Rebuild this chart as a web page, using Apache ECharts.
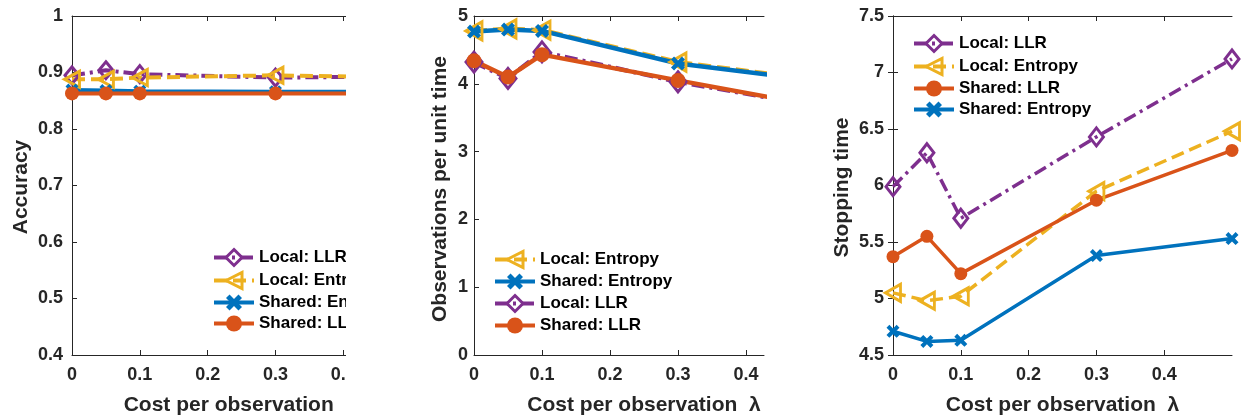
<!DOCTYPE html>
<html><head><meta charset="utf-8">
<script src="https://cdn.jsdelivr.net/npm/echarts@6/dist/echarts.min.js"></script>
<style>
html,body{margin:0;padding:0;background:#fff;width:1241px;height:419px;overflow:hidden}
.layer{position:absolute;left:0;top:0;width:1241px;height:419px}
#clipL{position:absolute;left:0;top:0;width:346px;height:419px;overflow:hidden}
</style></head><body>
<div id="clipL"><div id="cL" class="layer"></div></div>
<div id="cM" class="layer"></div>
<div id="cR" class="layer"></div>
<script>
// ---------------- data ----------------
const costX = [0, 0.05, 0.1, 0.3, 0.5];
const xTickValues = [0, 0.1, 0.2, 0.3, 0.4];

// Accuracy (left panel)
const accLocalLLR     = [0.895, 0.904, 0.897, 0.891, 0.893];
const accLocalEntropy = [0.888, 0.888, 0.891, 0.895, 0.891];
const accSharedEntropy= [0.869, 0.868, 0.867, 0.866, 0.866];
const accSharedLLR    = [0.863, 0.863, 0.863, 0.863, 0.863];

// Observations per unit time (middle panel)
const obsLocalEntropy = [4.78, 4.81, 4.79, 4.32, 4.06];
const obsSharedEntropy= [4.77, 4.80, 4.78, 4.30, 4.05];
const obsLocalLLR     = [4.32, 4.08, 4.47, 4.03, 3.68];
const obsSharedLLR    = [4.34, 4.10, 4.43, 4.05, 3.68];

// Stopping time (right panel)
const stopLocalLLR     = [5.99, 6.29, 5.71, 6.43, 7.12];
const stopLocalEntropy = [5.05, 4.98, 5.02, 5.95, 6.48];
const stopSharedLLR    = [5.37, 5.55, 5.22, 5.87, 6.31];
const stopSharedEntropy= [4.71, 4.62, 4.63, 5.38, 5.53];

const legendLeft  = ['Local: LLR', 'Local: Entropy', 'Shared: Entropy', 'Shared: LLR'];
const legendMid   = ['Local: Entropy', 'Shared: Entropy', 'Local: LLR', 'Shared: LLR'];
const legendRight = ['Local: LLR', 'Local: Entropy', 'Shared: LLR', 'Shared: Entropy'];

// ---------------- styling ----------------
const FONT = '"Liberation Sans", Arial, Helvetica, sans-serif';
const AX = '#262626';
const XPATH = 'path://M0,2.2L2.2,0L5,2.8L7.8,0L10,2.2L7.2,5L10,7.8L7.8,10L5,7.2L2.2,10L0,7.8L2.8,5Z';
const STY = {
  'Local: LLR':      {color:'#7E2F8E', dash:[13,5,3,5], symbol:'diamond', key:'dia', filled:false},
  'Local: Entropy':  {color:'#EDB120', dash:[13,6], symbol:'triangle', rotate:90, key:'tri', filled:false},
  'Shared: LLR':     {color:'#D95319', dash:'solid', symbol:'circle', key:'cir', filled:true},
  'Shared: Entropy': {color:'#0072BD', dash:'solid', symbol:XPATH, key:'x', filled:true}
};

function mkSeries(name, ys, sizes, lw) {
  const s = STY[name];
  return {
    type: 'line', name: name,
    data: costX.map((x, i) => [x, ys[i]]),
    symbol: s.symbol, symbolSize: sizes[s.key], symbolRotate: s.rotate || 0,
    showAllSymbol: true, clip: true, animation: false, silent: true,
    lineStyle: {color: s.color, width: lw, type: s.dash},
    itemStyle: s.filled ? {color: s.color, borderWidth: 0}
                        : {color: 'rgba(255,255,255,0)', borderColor: s.color, borderWidth: 3},
    emphasis: {disabled: true}
  };
}

function mkOption(cfg) {
  const tickStyle = {show: true, inside: true, length: 5, lineStyle: {color: AX, width: 1}};
  const lineSt = {show: true, lineStyle: {color: AX, width: 1}};
  const lab = {fontSize: 18, fontWeight: 'bold', color: AX, fontFamily: FONT};
  const xAxis = [
    {type: 'value', min: 0, max: cfg.xMax, position: 'bottom', axisLine: lineSt,
     axisTick: Object.assign({customValues: xTickValues}, tickStyle), splitLine: {show: false},
     axisLabel: Object.assign({customValues: xTickValues, margin: 11}, lab)},
    {type: 'value', min: 0, max: cfg.xMax, position: 'top', axisLine: lineSt,
     axisTick: Object.assign({customValues: xTickValues}, tickStyle), splitLine: {show: false},
     axisLabel: {show: false}}
  ];
  const yAxis = [
    {type: 'value', min: cfg.yMin, max: cfg.yMax, interval: cfg.yInt, position: 'left',
     axisLine: lineSt, axisTick: tickStyle, splitLine: {show: false},
     axisLabel: Object.assign({margin: cfg.yMargin}, lab)}
  ];
  if (cfg.rightAxis) {
    yAxis.push({type: 'value', min: cfg.yMin, max: cfg.yMax, interval: cfg.yInt, position: 'right',
     axisLine: lineSt, axisTick: tickStyle, splitLine: {show: false}, axisLabel: {show: false}});
  }
  const titleStyle = {fontSize: 21, fontWeight: 'bold', fill: AX, fontFamily: FONT, align: 'center', verticalAlign: 'middle'};
  return {
    animation: false,
    backgroundColor: 'transparent',
    grid: {left: cfg.grid[0], top: cfg.grid[1], width: cfg.grid[2], height: cfg.grid[3], containLabel: false},
    xAxis: xAxis, yAxis: yAxis,
    legend: {
      data: cfg.legend, orient: 'vertical', left: cfg.legPos[0], top: cfg.legPos[1],
      padding: 0, itemWidth: 40, itemHeight: 20, itemGap: 4, selectedMode: false,
      lineStyle: {width: cfg.legLW},
      itemStyle: {borderWidth: 3},
      textStyle: {fontSize: 17, fontWeight: 'bold', color: '#000', fontFamily: FONT}
    },
    graphic: [
      {type: 'text', x: cfg.xTitle[0], y: cfg.xTitle[1], silent: true,
       style: Object.assign({text: cfg.xName}, titleStyle)},
      {type: 'text', x: cfg.yTitle[0], y: cfg.yTitle[1], rotation: Math.PI / 2, silent: true,
       style: Object.assign({text: cfg.yName}, titleStyle)}
    ],
    series: cfg.series
  };
}

// ---------------- charts ----------------
const szL = {dia: [14, 17], tri: [16, 15], cir: 14, x: 13};
const szM = {dia: [16, 20], tri: [18, 16], cir: 15, x: 14};
const szR = {dia: [14, 18], tri: [17, 15], cir: 13, x: 13};

const chL = echarts.init(document.getElementById('cL'), null, {renderer: 'canvas'});
chL.setOption(mkOption({
  grid: [72, 16, 274, 339], xMax: 0.404, yMin: 0.4, yMax: 1, yInt: 0.1, yMargin: 9, rightAxis: false,
  legend: legendLeft, legPos: [212, 248], legLW: 4,
  xName: 'Cost per observation', xTitle: [228.7, 405.5],
  yName: 'Accuracy', yTitle: [21, 187],
  series: [
    mkSeries('Local: LLR', accLocalLLR, szL, 4),
    mkSeries('Local: Entropy', accLocalEntropy, szL, 4),
    mkSeries('Shared: Entropy', accSharedEntropy, szL, 4),
    mkSeries('Shared: LLR', accSharedLLR, szL, 4)
  ]
}));

const chM = echarts.init(document.getElementById('cM'), null, {renderer: 'canvas'});
chM.setOption(mkOption({
  grid: [474, 16, 290, 339], xMax: 0.4265, yMin: 0, yMax: 5, yInt: 1, yMargin: 6, rightAxis: false,
  legend: legendMid, legPos: [493, 250], legLW: 4,
  xName: 'Cost per observation  λ', xTitle: [644, 405.5],
  yName: 'Observations per unit time', yTitle: [440, 189],
  series: [
    mkSeries('Local: Entropy', obsLocalEntropy, szM, 4.5),
    mkSeries('Shared: Entropy', obsSharedEntropy, szM, 4.5),
    mkSeries('Local: LLR', obsLocalLLR, szM, 4.5),
    mkSeries('Shared: LLR', obsSharedLLR, szM, 4.5)
  ]
}));

const chR = echarts.init(document.getElementById('cR'), null, {renderer: 'canvas'});
chR.setOption(mkOption({
  grid: [893, 16, 339, 339], xMax: 0.5, yMin: 4.5, yMax: 7.5, yInt: 0.5, yMargin: 9, rightAxis: true,
  legend: legendRight, legPos: [912, 34], legLW: 4,
  xName: 'Cost per observation  λ', xTitle: [1062.5, 405.5],
  yName: 'Stopping time', yTitle: [842.5, 187.5],
  series: [
    mkSeries('Local: LLR', stopLocalLLR, szR, 3.5),
    mkSeries('Local: Entropy', stopLocalEntropy, szR, 3.5),
    mkSeries('Shared: LLR', stopSharedLLR, szR, 3.5),
    mkSeries('Shared: Entropy', stopSharedEntropy, szR, 3.5)
  ]
}));
</script>
</body></html>
